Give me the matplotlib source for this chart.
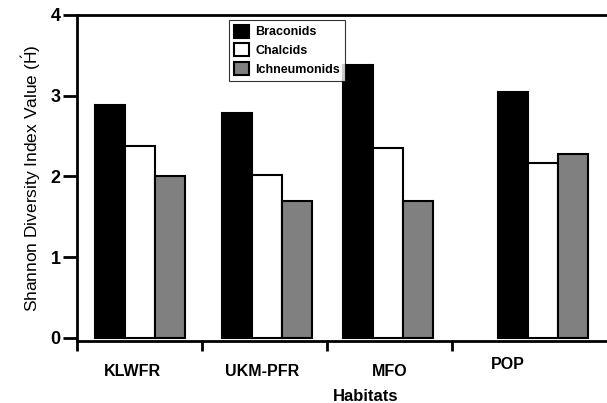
import matplotlib.pyplot as plt
import numpy as np

plt.rcParams["font.family"] = ["Liberation Sans", "DejaVu Sans"]
plt.rcParams["mathtext.fontset"] = "custom"
plt.rcParams["mathtext.rm"] = "Liberation Sans"
plt.rcParams["mathtext.it"] = "Liberation Sans:italic"

# =============================================================================
habitats = ["KLWFR", "UKM-PFR", "MFO", "POP"]
braconids = [2.88, 2.78, 3.38, 3.05]
chalcids = [2.38, 2.02, 2.35, 2.17]
ichneumonids = [2.00, 1.70, 1.70, 2.28]
# =============================================================================

# group centres / label spots in axis units (uneven in the original figure)
group_x = np.array([0.50, 1.52, 2.49, 3.73])
label_x = [0.44, 1.48, 2.50, 3.45]
label_y = [-0.41, -0.41, -0.41, -0.33]
bar_w = 0.24

fig = plt.figure(figsize=(6.07, 4.03), dpi=100)
ax = fig.add_axes([0.127, 0.154, 0.873, 0.809])

series = [
    (braconids, "black", "Braconids"),
    (chalcids, "white", "Chalcids"),
    (ichneumonids, "#808080", "Ichneumonids"),
]
for i, (vals, col, name) in enumerate(series):
    ax.bar(group_x + (i - 1) * bar_w, vals, bar_w, color=col,
           edgecolor="black", linewidth=1.5, label=name)

ax.set_xlim(0, 4.24)
ax.set_ylim(-0.037, 4)

ax.spines["right"].set_visible(False)
for s in ["left", "bottom", "top"]:
    ax.spines[s].set_linewidth(2.0)

ax.set_yticks([0, 1, 2, 3, 4])
ax.set_yticklabels(["0", "1", "2", "3", "4"], fontsize=13, fontweight="bold")
ax.tick_params(axis="y", direction="out", length=10, width=2, pad=2)

ax.set_xticks([0, 1, 2, 3])
ax.set_xticklabels([])
ax.tick_params(axis="x", direction="out", length=7.5, width=2)

for lx, ly, name in zip(label_x, label_y, habitats):
    ax.text(lx, ly, name, ha="center", va="center", fontsize=11.5,
            fontweight="bold")

ax.text(2.31, -0.72, "Habitats", ha="center", va="center", fontsize=12,
        fontweight="bold")

ax.set_ylabel(r"Shannon Diversity Index Value ($\acute{\mathrm{H}}$)",
              fontsize=12.5, labelpad=5)

leg = ax.legend(loc="upper left", bbox_to_anchor=(0.287, 0.985), fontsize=9,
                frameon=True, fancybox=False, handlelength=1.2,
                handleheight=1.2, handletextpad=0.5, borderpad=0.4,
                labelspacing=0.4, borderaxespad=0)
leg.get_frame().set_edgecolor("black")
leg.get_frame().set_linewidth(0.8)
for t in leg.get_texts():
    t.set_fontweight("bold")

fig.savefig("out.png", dpi=100)
